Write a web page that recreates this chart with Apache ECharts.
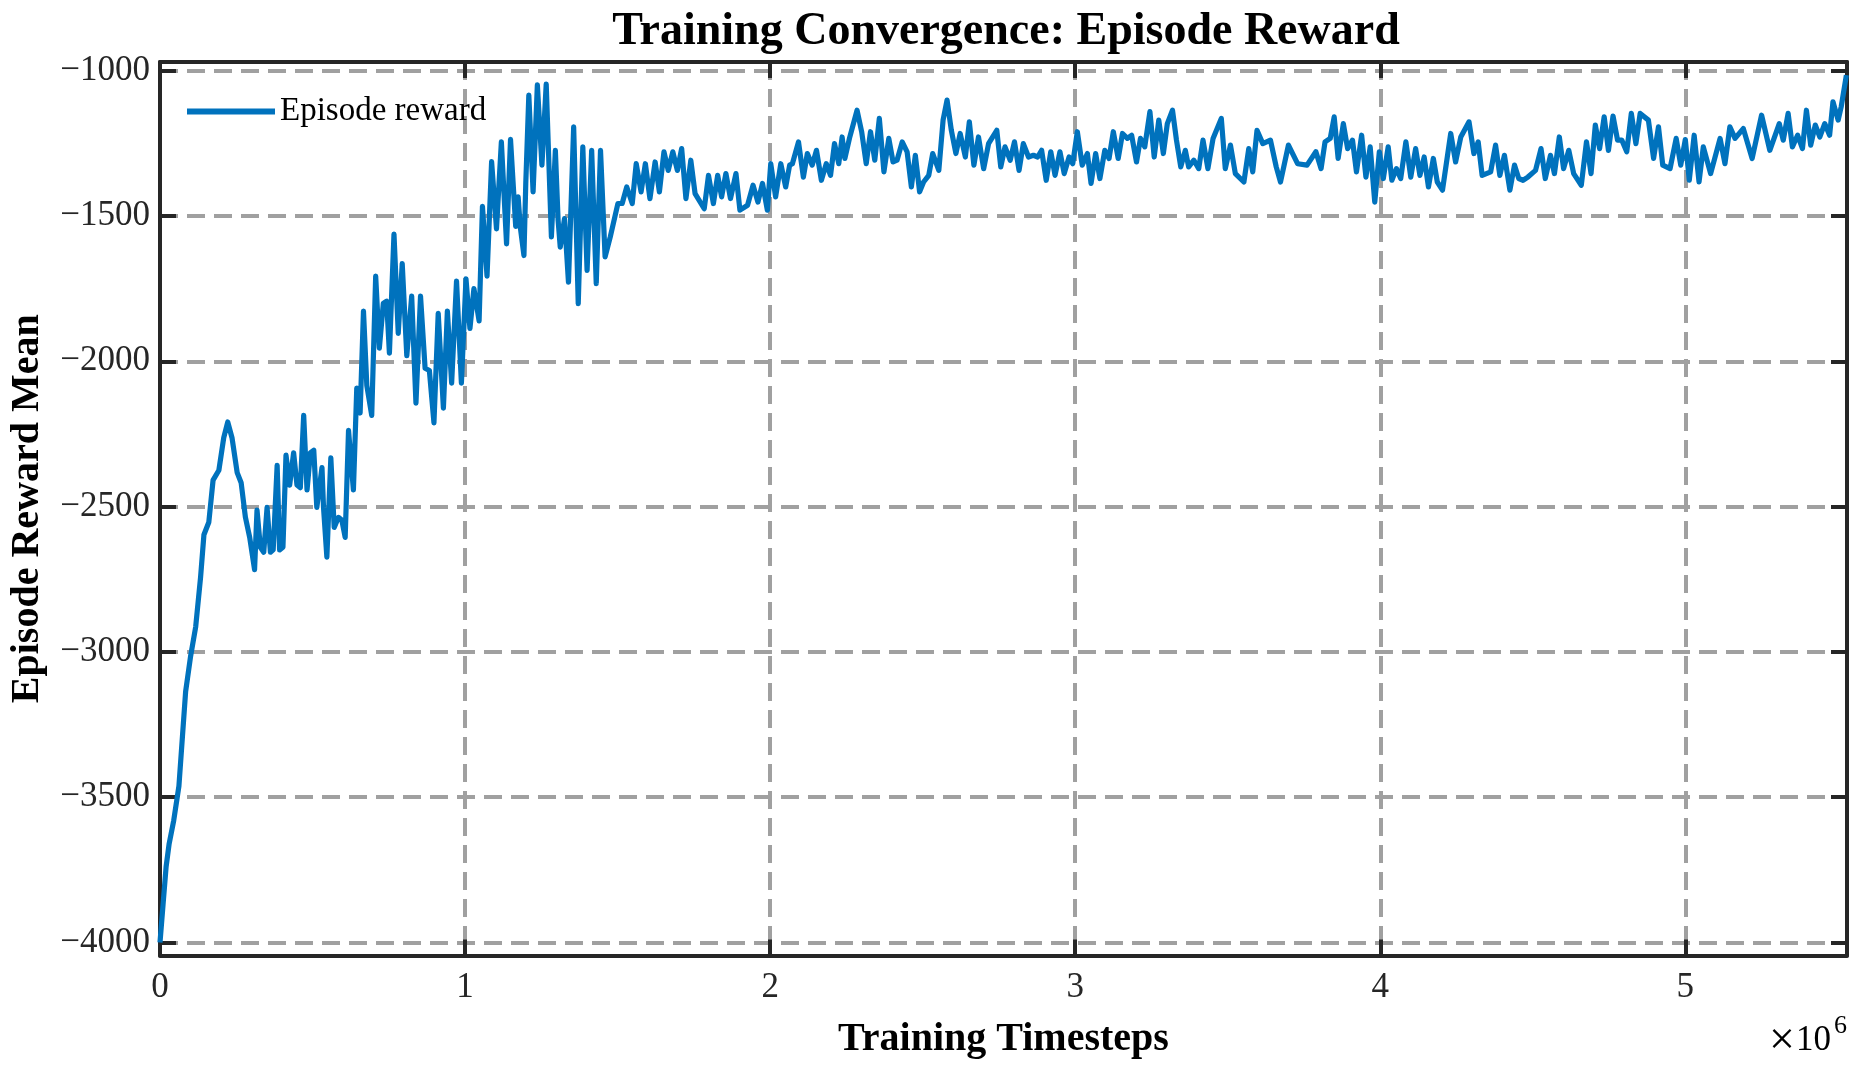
<!DOCTYPE html>
<html><head><meta charset="utf-8">
<script src="https://cdn.jsdelivr.net/npm/echarts@6/dist/echarts.min.js"></script>
<style>html,body{margin:0;padding:0;background:#fff}#c{width:1862px;height:1070px}</style>
</head><body><div id="c"></div>
<script>
// Training timesteps in units of 1e6
const timestepsM = [
0,0.01,0.02,0.03,0.045,0.062,0.084,0.100,0.117,0.133,0.144,0.160,0.174,0.193,0.209,0.222,0.236,0.253,0.266,0.280,
0.294,0.310,0.318,0.329,0.340,0.351,0.362,0.371,0.384,0.392,0.403,0.413,0.425,0.438,0.449,0.460,0.471,0.482,0.493,0.504,
0.514,0.531,0.536,0.547,0.560,0.571,0.585,0.596,0.607,0.618,0.634,0.645,0.656,0.667,0.678,0.694,0.707,0.719,0.732,0.743,
0.752,0.767,0.781,0.794,0.809,0.825,0.839,0.854,0.869,0.883,0.898,0.912,0.929,0.942,0.956,0.972,0.988,1.003,1.016,1.029,
1.046,1.057,1.072,1.087,1.103,1.119,1.136,1.149,1.166,1.174,1.181,1.193,1.199,1.209,1.223,1.237,1.252,1.266,1.283,1.296,
1.305,1.312,1.326,1.339,1.356,1.371,1.386,1.400,1.415,1.430,1.444,1.459,1.476,1.501,1.515,1.530,1.548,1.561,1.577,1.591,
1.606,1.623,1.637,1.652,1.666,1.681,1.696,1.710,1.724,1.740,1.754,1.784,1.798,1.814,1.828,1.841,1.855,1.870,1.888,1.901,
1.926,1.944,1.960,1.975,1.991,2.002,2.018,2.035,2.051,2.064,2.073,2.093,2.109,2.122,2.138,2.152,2.168,2.184,2.198,2.211,
2.225,2.236,2.245,2.260,2.285,2.300,2.315,2.329,2.343,2.358,2.373,2.389,2.403,2.416,2.433,2.449,2.463,2.476,2.490,2.503,
2.520,2.533,2.553,2.567,2.580,2.594,2.609,2.623,2.640,2.653,2.668,2.683,2.700,2.716,2.743,2.756,2.770,2.787,2.801,2.816,
2.830,2.847,2.863,2.877,2.890,2.905,2.920,2.934,2.950,2.964,2.980,2.992,3.007,3.023,3.040,3.052,3.067,3.081,3.097,3.111,
3.125,3.141,3.155,3.171,3.185,3.201,3.214,3.228,3.245,3.259,3.274,3.289,3.302,3.319,3.332,3.346,3.361,3.372,3.389,3.405,
3.419,3.435,3.452,3.479,3.492,3.509,3.525,3.553,3.569,3.582,3.596,3.615,3.640,3.659,3.673,3.699,3.729,3.760,3.789,3.806,
3.819,3.836,3.849,3.862,3.879,3.893,3.909,3.922,3.939,3.953,3.967,3.982,3.997,4.010,4.026,4.038,4.053,4.067,4.084,4.100,
4.116,4.130,4.144,4.158,4.174,4.187,4.204,4.231,4.247,4.264,4.291,4.307,4.321,4.334,4.362,4.378,4.392,4.407,4.425,4.440,
4.454,4.468,4.484,4.509,4.527,4.541,4.558,4.571,4.587,4.601,4.618,4.634,4.659,4.676,4.691,4.705,4.719,4.734,4.748,4.763,
4.778,4.792,4.808,4.823,4.838,4.852,4.879,4.896,4.912,4.926,4.950,4.970,4.985,5.000,5.013,5.029,5.045,5.059,5.083,5.114,
5.130,5.146,5.163,5.190,5.219,5.250,5.277,5.308,5.321,5.337,5.351,5.368,5.384,5.397,5.411,5.426,5.441,5.457,5.473,5.484,
5.501,5.511,5.528
];
const rewards = [
-4000,-3870,-3740,-3660,-3580,-3462,-3137,-3017,-2914,-2743,-2597,-2554,-2409,-2375,-2263,-2209,-2263,-2383,-2418,-2537,
-2606,-2717,-2512,-2640,-2657,-2503,-2657,-2649,-2358,-2649,-2640,-2323,-2426,-2315,-2426,-2435,-2186,-2443,-2315,-2306,
-2503,-2366,-2503,-2674,-2332,-2572,-2537,-2546,-2606,-2238,-2443,-2092,-2178,-1827,-2084,-2186,-1707,-1955,-1801,-1793,
-1972,-1562,-1904,-1664,-1981,-1776,-2144,-1776,-2024,-2032,-2212,-1835,-2161,-1827,-2075,-1724,-2075,-1716,-1887,-1750,
-1861,-1467,-1707,-1313,-1544,-1245,-1596,-1236,-1536,-1434,-1538,-1636,-1388,-1084,-1417,-1049,-1325,-1046,-1572,-1274,
-1515,-1607,-1509,-1728,-1193,-1802,-1262,-1687,-1274,-1733,-1274,-1641,-1572,-1457,-1457,-1400,-1457,-1320,-1417,-1320,
-1440,-1314,-1417,-1279,-1343,-1279,-1343,-1268,-1440,-1308,-1423,-1475,-1360,-1457,-1360,-1434,-1354,-1440,-1354,-1480,
-1463,-1394,-1452,-1388,-1480,-1320,-1434,-1320,-1400,-1325,-1320,-1245,-1366,-1285,-1325,-1274,-1377,-1320,-1360,-1251,
-1320,-1228,-1302,-1233,-1136,-1210,-1320,-1210,-1308,-1164,-1348,-1233,-1314,-1308,-1245,-1279,-1400,-1291,-1417,-1383,
-1360,-1285,-1343,-1170,-1101,-1205,-1285,-1216,-1297,-1176,-1325,-1228,-1337,-1251,-1205,-1331,-1262,-1308,-1245,-1343,
-1251,-1297,-1291,-1297,-1274,-1377,-1279,-1360,-1279,-1354,-1297,-1320,-1210,-1325,-1285,-1388,-1285,-1371,-1274,-1302,
-1210,-1302,-1216,-1233,-1222,-1314,-1233,-1262,-1141,-1297,-1170,-1285,-1182,-1136,-1239,-1331,-1274,-1331,-1308,-1337,
-1239,-1337,-1233,-1164,-1337,-1256,-1354,-1383,-1268,-1348,-1205,-1251,-1239,-1331,-1383,-1256,-1320,-1325,-1279,-1337,
-1245,-1233,-1159,-1302,-1182,-1268,-1239,-1348,-1222,-1366,-1262,-1452,-1279,-1371,-1262,-1377,-1337,-1371,-1245,-1366,
-1268,-1360,-1297,-1400,-1302,-1383,-1411,-1216,-1314,-1228,-1176,-1285,-1245,-1360,-1348,-1256,-1360,-1291,-1411,-1325,
-1371,-1377,-1366,-1343,-1268,-1371,-1291,-1354,-1228,-1337,-1274,-1354,-1394,-1245,-1354,-1187,-1268,-1159,-1274,-1156,
-1239,-1239,-1279,-1147,-1251,-1147,-1170,-1302,-1193,-1325,-1337,-1233,-1325,-1237,-1377,-1222,-1383,-1262,-1354,-1233,
-1320,-1193,-1233,-1199,-1302,-1153,-1274,-1182,-1239,-1147,-1262,-1222,-1268,-1136,-1256,-1187,-1228,-1182,-1222,-1107,
-1170,-1124,-1015
];
const xTicks = [0, 1, 2, 3, 4, 5];
const yTicks = [-4000, -3500, -3000, -2500, -2000, -1500, -1000];
const seriesName = 'Episode reward';
const titleText = 'Training Convergence: Episode Reward';
const xName = 'Training Timesteps';
const yName = 'Episode Reward Mean';

const font = '"Liberation Serif", "Times New Roman", serif';
const axisColor = '#262626';
const gridColor = '#a0a0a0';
const lineColor = '#0072BD';
const xRange = [0, 5.53];
const yRange = [-4045, -970];

const points = timestepsM.map((t, i) => [t, rewards[i]]);
const fmtY = v => String(v).replace('-', '\u2212');

const axisLine = {show: true, onZero: false, lineStyle: {color: axisColor, width: 4}};
const axisTick = (vals) => ({show: true, inside: true, length: 16, customValues: vals, lineStyle: {color: axisColor, width: 4}});
const splitLine = {show: true, lineStyle: {color: gridColor, width: 4, type: [18, 9]}};

const chart = echarts.init(document.getElementById('c'), null, {renderer: 'canvas'});
chart.setOption({
  animation: false,
  backgroundColor: '#ffffff',
  title: {
    text: titleText, left: 1001, top: 4, textAlign: 'center',
    textStyle: {fontFamily: font, fontSize: 46, fontWeight: 'bold', color: '#000'}
  },
  legend: {
    data: [seriesName], left: 187, top: 95, icon: 'rect', itemWidth: 88, itemHeight: 6, padding: 0,
    textStyle: {fontFamily: font, fontSize: 33, color: '#000'}
  },
  grid: {left: 156, right: 15, top: 62, bottom: 114.5, containLabel: false},
  xAxis: [
    {type: 'value', position: 'bottom', min: xRange[0], max: xRange[1],
     axisLine: axisLine, axisTick: axisTick(xTicks), splitLine: splitLine,
     axisLabel: {customValues: xTicks, color: axisColor, fontFamily: font, fontSize: 35, margin: 15},
     name: xName, nameLocation: 'middle', nameGap: 64,
     nameTextStyle: {fontFamily: font, fontSize: 40, fontWeight: 'bold', color: '#000'}},
    {type: 'value', position: 'top', min: xRange[0], max: xRange[1],
     axisLine: axisLine, axisTick: axisTick(xTicks), splitLine: {show: false},
     axisLabel: {show: false}}
  ],
  yAxis: [
    {type: 'value', position: 'left', min: yRange[0], max: yRange[1],
     axisLine: axisLine, axisTick: axisTick(yTicks), splitLine: splitLine,
     axisLabel: {customValues: yTicks, color: axisColor, fontFamily: font, fontSize: 35, margin: 10, formatter: fmtY},
     name: yName, nameLocation: 'middle', nameGap: 112, nameRotate: 90,
     nameTextStyle: {fontFamily: font, fontSize: 40, fontWeight: 'bold', color: '#000'}},
    {type: 'value', position: 'right', min: yRange[0], max: yRange[1],
     axisLine: axisLine, axisTick: axisTick(yTicks), splitLine: {show: false},
     axisLabel: {show: false}}
  ],
  series: [{
    name: seriesName, type: 'line', xAxisIndex: 0, yAxisIndex: 0,
    data: points, symbol: 'none', showSymbol: false, clip: true,
    lineStyle: {color: lineColor, width: 5.2, join: 'round'},
    itemStyle: {color: lineColor}
  }],
  graphic: [
    {type: 'text', x: 1782, y: 1042, style: {text: '\u00d7', font: '46px "Liberation Serif"', fill: '#000', textAlign: 'center', textVerticalAlign: 'middle'}},
    {type: 'text', x: 1831, y: 1041, style: {text: '10', font: '35px "Liberation Serif"', fill: '#000', textAlign: 'right', textVerticalAlign: 'middle'}},
    {type: 'text', x: 1834, y: 1026, style: {text: '6', font: '26px "Liberation Serif"', fill: '#000', textAlign: 'left', textVerticalAlign: 'middle'}}
  ]
});
</script>
</body></html>
